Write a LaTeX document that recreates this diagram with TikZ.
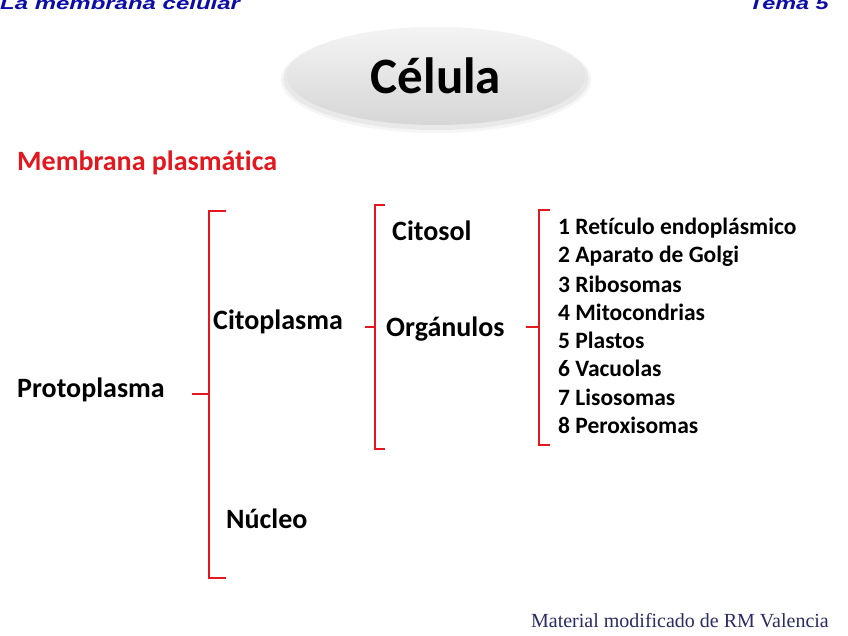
\documentclass[tikz,border=0pt]{standalone}
\usepackage{fontspec}
\setmainfont{Carlito}[Ligatures=NoCommon]
\newfontfamily\hdrfont{Liberation Sans}
\newfontfamily\footfont{Liberation Serif}
\usetikzlibrary{shapes.geometric,calc}
\definecolor{bred}{RGB}{228,22,30}
\definecolor{hblue}{RGB}{12,12,168}
\definecolor{navy}{RGB}{42,42,100}
\definecolor{elltop}{RGB}{244,244,244}
\definecolor{ellbot}{RGB}{214,214,214}
\begin{document}
\begin{tikzpicture}[x=1pt,y=-1pt,
  brk/.style={draw=bred,line width=2.6pt,line cap=butt,line join=miter},
  lbl/.style={font=\bfseries\fontsize{28}{32}\selectfont,inner sep=0pt,anchor=west},
  itm/.style={font=\bfseries\fontsize{23.5}{27}\selectfont,inner sep=0pt,anchor=west},
  hdr/.style={font=\hdrfont\bfseries\itshape\fontsize{17}{20}\selectfont,text=hblue,inner sep=0pt},
]
\useasboundingbox (0,0) rectangle (848,636);
% header
\node[hdr,anchor=base west] (h1) at (0,10) {\scalebox{1.41}[1]{La membrana celular}};
\node[hdr,anchor=base east] (h2) at (829,10) {\scalebox{1.38}[1]{Tema 5}};
% ellipse with soft shadow
\fill[black,opacity=0.04] (436,80) ellipse [x radius=155,y radius=53];
\fill[black,opacity=0.05] (436,79) ellipse [x radius=152.5,y radius=51];
\node[ellipse,minimum width=298pt,minimum height=98pt,top color=elltop,bottom color=ellbot,draw=none,
  font=\bfseries\fontsize{51}{56}\selectfont,inner sep=0pt] (cel) at (436,76) {Célula};
% title
\node[lbl,text=bred] (mem) at (17,163) {Membrana plasmática};
% level texts
\node[lbl] (proto) at (17,390) {Protoplasma};
\node[lbl] (cito) at (213,322) {Citoplasma};
\node[lbl] (nuc) at (226,519) {Núcleo};
\node[lbl] (ctsl) at (392,231) {Citosol};
\node[lbl] (org) at (386,329) {Orgánulos};
% list
\node[itm] (i1) at (558,228) {1 Retículo endoplásmico};
\node[itm] (i2) at (558,256) {2 Aparato de Golgi};
\node[itm] (i3) at (558,284) {3 Ribosomas};
\node[itm] (i4) at (558,312) {4 Mitocondrias};
\node[itm] (i5) at (558,340) {5 Plastos};
\node[itm] (i6) at (558,368) {6 Vacuolas};
\node[itm] (i7) at (558,397) {7 Lisosomas};
\node[itm] (i8) at (558,425) {8 Peroxisomas};
% bracket 1
\coordinate (b1t) at (209,211);
\coordinate (b1b) at (209,578);
\coordinate (b1m) at (209,394);
\coordinate (t1) at (192,394);
\draw[brk] ($(b1t)+(17,0)$) -- (b1t) -- (b1b) -- ++(17,0);
\draw[brk] (t1) -- (b1m);
% bracket 2
\coordinate (b2t) at (375,205);
\coordinate (b2b) at (375,449);
\coordinate (b2m) at (375,327);
\coordinate (t2) at (365,327);
\draw[brk] ($(b2t)+(10,0)$) -- (b2t) -- (b2b) -- ++(10,0);
\draw[brk] (t2) -- (b2m);
% bracket 3
\coordinate (b3t) at (539,210);
\coordinate (b3b) at (539,445);
\coordinate (b3m) at (539,327);
\coordinate (t3) at (526,327);
\draw[brk] ($(b3t)+(11,0)$) -- (b3t) -- (b3b) -- ++(11,0);
\draw[brk] (t3) -- (b3m);
% footer
\node[font=\footfont\fontsize{20}{23}\selectfont,text=navy,anchor=east,inner sep=0pt] (ft) at (829,621) {Material modificado de RM Valencia};
\end{tikzpicture}
\end{document}
